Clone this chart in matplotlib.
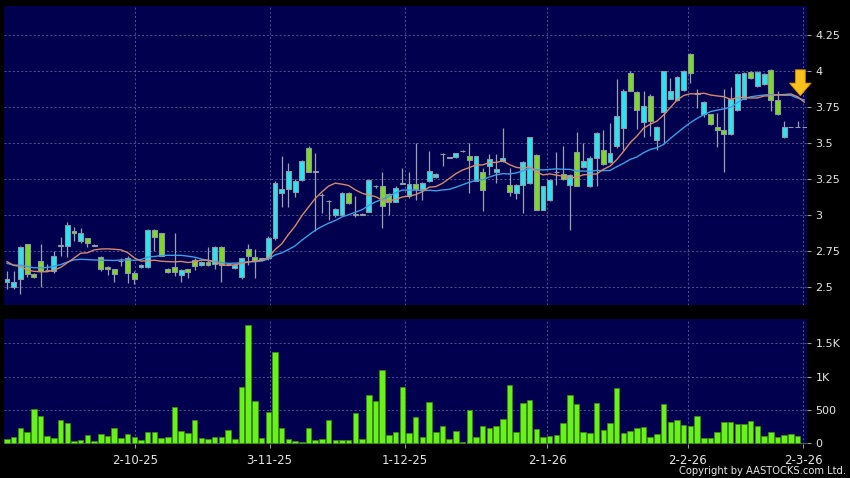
import matplotlib
matplotlib.use('Agg')
import matplotlib.pyplot as plt
import numpy as np
import pandas as pd

# ---------------- data ----------------
opens = [2.535, 2.50, 2.56, 2.80, 2.59, 2.68, 2.62, 2.61, 2.79, 2.79,
         2.89, 2.82, 2.84, 2.79, 2.71, 2.64, 2.625, 2.68, 2.70, 2.60,
         2.64, 2.64, 2.90, 2.875, 2.63, 2.64, 2.585, 2.625, 2.69, 2.655,
         2.675, 2.66, 2.78, 2.66, 2.635, 2.57, 2.765, 2.71, 2.69, 2.70,
         2.84, 3.155, 3.18, 3.165, 3.245, 3.47, 3.30, 3.14, 3.10, 3.00,
         3.00, 3.155, 3.005, 3.00, 3.025, 3.20, 3.20, 3.15, 3.095, 3.22,
         3.135, 3.22, 3.18, 3.24, 3.265, 3.425, 3.40, 3.405, 3.445, 3.41,
         3.24, 3.30, 3.345, 3.30, 3.375, 3.21, 3.155, 3.21, 3.225, 3.42,
         3.04, 3.105, 3.30, 3.29, 3.21, 3.44, 3.335, 3.205, 3.40, 3.45,
         3.37, 3.48, 3.605, 3.99, 3.855, 3.65, 3.83, 3.52, 3.72, 3.81,
         3.80, 3.87, 4.12, 3.845, 3.70, 3.70, 3.615, 3.59, 3.565, 3.73,
         3.81, 3.995, 3.895, 3.91, 4.01, 3.80, 3.54, 3.61, 3.61, 3.61]
highs = [2.61, 2.61, 2.79, 2.80, 2.60, 2.80, 2.665, 2.75, 2.85, 2.95,
         2.92, 2.91, 2.845, 2.80, 2.72, 2.645, 2.63, 2.70, 2.72, 2.61,
         2.66, 2.905, 2.905, 2.88, 2.635, 2.88, 2.625, 2.63, 2.70, 2.68,
         2.78, 2.785, 2.785, 2.67, 2.66, 2.70, 2.80, 2.765, 2.705, 2.855,
         3.24, 3.41, 3.36, 3.25, 3.385, 3.48, 3.43, 3.155, 3.105, 3.05,
         3.16, 3.16, 3.134, 3.015, 3.255, 3.21, 3.30, 3.155, 3.20, 3.33,
         3.30, 3.50, 3.23, 3.447, 3.295, 3.43, 3.405, 3.435, 3.45, 3.50,
         3.415, 3.33, 3.426, 3.426, 3.604, 3.331, 3.215, 3.375, 3.545, 3.425,
         3.205, 3.25, 3.44, 3.48, 3.29, 3.58, 3.50, 3.41, 3.58, 3.59,
         3.64, 3.944, 3.875, 4.00, 3.86, 3.86, 3.84, 3.62, 4.00, 3.95,
         3.965, 4.01, 4.125, 3.88, 3.79, 3.705, 3.708, 3.88, 3.89, 3.985,
         3.995, 4.00, 4.00, 3.985, 4.015, 3.86, 3.657, 3.61, 3.657, 3.61]
lows = [2.49, 2.49, 2.45, 2.57, 2.565, 2.50, 2.61, 2.60, 2.72, 2.71,
        2.82, 2.805, 2.78, 2.785, 2.61, 2.585, 2.54, 2.645, 2.53, 2.52,
        2.635, 2.635, 2.75, 2.72, 2.60, 2.575, 2.54, 2.565, 2.62, 2.65,
        2.645, 2.625, 2.54, 2.655, 2.63, 2.555, 2.655, 2.565, 2.685, 2.69,
        2.83, 3.06, 3.06, 3.13, 3.24, 3.30, 2.89, 3.015, 2.97, 2.99,
        2.995, 3.08, 2.99, 3.00, 3.02, 3.19, 2.91, 3.00, 3.09, 3.215,
        3.12, 3.105, 3.105, 3.23, 3.26, 3.34, 3.395, 3.40, 3.44, 3.155,
        3.235, 3.03, 3.28, 3.222, 3.37, 3.134, 3.11, 3.015, 3.22, 3.035,
        3.035, 3.10, 3.21, 3.245, 2.90, 3.20, 3.33, 3.195, 3.205, 3.35,
        3.365, 3.47, 3.45, 3.86, 3.60, 3.54, 3.55, 3.455, 3.50, 3.805,
        3.795, 3.865, 3.92, 3.745, 3.68, 3.63, 3.472, 3.30, 3.56, 3.725,
        3.805, 3.945, 3.89, 3.905, 3.725, 3.695, 3.535, 3.61, 3.61, 3.61]
closes = [2.555, 2.54, 2.78, 2.59, 2.57, 2.61, 2.62, 2.72, 2.79, 2.93,
          2.875, 2.88, 2.81, 2.79, 2.63, 2.625, 2.59, 2.68, 2.60, 2.56,
          2.655, 2.90, 2.85, 2.72, 2.605, 2.605, 2.62, 2.605, 2.65, 2.675,
          2.652, 2.78, 2.655, 2.665, 2.655, 2.70, 2.715, 2.68, 2.70, 2.84,
          3.225, 3.18, 3.31, 3.24, 3.38, 3.30, 3.31, 3.14, 3.10, 3.045,
          3.155, 3.085, 3.005, 3.01, 3.245, 3.20, 3.065, 3.095, 3.19, 3.22,
          3.22, 3.18, 3.225, 3.31, 3.29, 3.425, 3.40, 3.43, 3.445, 3.385,
          3.41, 3.175, 3.39, 3.32, 3.40, 3.16, 3.21, 3.37, 3.54, 3.04,
          3.20, 3.245, 3.30, 3.25, 3.28, 3.205, 3.38, 3.40, 3.57, 3.355,
          3.43, 3.69, 3.865, 3.865, 3.73, 3.76, 3.655, 3.615, 4.00, 3.865,
          3.96, 4.00, 3.99, 3.845, 3.785, 3.635, 3.59, 3.565, 3.81, 3.98,
          3.99, 3.95, 3.995, 3.98, 3.80, 3.70, 3.61, 3.61, 3.61, 3.61]
volumes = [70, 95, 235, 170, 515, 415, 110, 85, 350, 300,
           35, 55, 125, 35, 135, 115, 225, 75, 140, 95,
           45, 165, 165, 85, 100, 540, 190, 155, 350, 80,
           65, 90, 100, 200, 70, 845, 1775, 640, 75, 465,
           1370, 230, 60, 35, 25, 230, 50, 60, 355, 45,
           45, 45, 450, 60, 725, 635, 1105, 125, 170, 840,
           150, 400, 100, 620, 170, 260, 65, 180, 20, 495,
           100, 255, 230, 265, 365, 870, 165, 605, 655, 210,
           100, 110, 125, 300, 720, 585, 165, 160, 600, 200,
           305, 835, 160, 185, 225, 250, 95, 140, 590, 320,
           345, 280, 260, 405, 85, 85, 170, 315, 315, 290,
           290, 330, 260, 105, 165, 100, 130, 135, 110, 0]
# closes of the sessions just before the window (only feed the moving averages)
prior_closes = [2.78, 2.79, 2.77, 2.76, 2.60, 2.58, 2.56, 2.55, 2.57, 2.58,
                2.80, 2.85, 2.84, 2.66, 2.64, 2.62, 2.61, 2.60, 2.605]
date_labels = ['2-10-25', '3-11-25', '1-12-25', '2-1-26', '2-2-26', '2-3-26']
date_pos = [19.1, 39.2, 59.4, 80.6, 101.6, 118.8]
price_ticks = [2.5, 2.75, 3.0, 3.25, 3.5, 3.75, 4.0, 4.25]
price_labels = ['2.5', '2.75', '3', '3.25', '3.5', '3.75', '4', '4.25']
vol_ticks = [0, 500, 1000, 1500]
vol_labels = ['0', '500', '1K', '1.5K']
signal_x, signal_from, signal_to = 118.4, 4.01, 3.83

# ---------------- style ----------------
BG = '#00004e'
UP = '#27e6f2'
DOWN = '#7ddc1f'
EDGE = '#8e99a6'
WICK = '#98a2ae'
GRID = '#5a5e96'
VOL = '#68f21a'
MA10_C = '#d58a6c'
MA20_C = '#3c9ee6'
TXT = '#e6e6e6'

W, H = 850, 478
fig = plt.figure(figsize=(W / 100, H / 100), dpi=100, facecolor='black')
ax = fig.add_axes([4 / W, 1 - 305 / H, 803 / W, 299 / H], facecolor=BG)
axv = fig.add_axes([4 / W, 1 - 444 / H, 803 / W, 125 / H], facecolor=BG)

o = np.array(opens); h = np.array(highs); l = np.array(lows); c = np.array(closes)
x = np.arange(len(c))

# moving averages
full = pd.Series(prior_closes + closes)
ma10 = full.rolling(10).mean().iloc[len(prior_closes):].to_numpy()
ma20 = full.rolling(20).mean().iloc[len(prior_closes):].to_numpy()

# wicks
ax.vlines(x, l, h, color=WICK, linewidth=0.9, zorder=2)
# bodies
colors = np.where(c > o, UP, np.where(c < o, DOWN, EDGE))
bottom = np.minimum(o, c)
height = np.maximum(np.abs(c - o), 0.002)
ax.bar(x, height, bottom=bottom, width=0.74, color=colors, edgecolor=EDGE,
       linewidth=0.8, zorder=3)
ax.plot(x, ma20, color=MA20_C, linewidth=1.0, zorder=4)
ax.plot(x, ma10, color=MA10_C, linewidth=1.0, zorder=4)

ax.annotate('', xy=(signal_x, signal_to), xytext=(signal_x, signal_from),
            arrowprops=dict(arrowstyle='simple,head_length=0.7,head_width=1.2,tail_width=0.55',
                            facecolor='#f8c21c', edgecolor='#d08a00', linewidth=0.6,
                            mutation_scale=13, shrinkA=0, shrinkB=0), zorder=6)

xmin, xmax = -0.45, 119.4
ax.set_xlim(xmin, xmax)
ax.set_ylim(2.377, 4.453)

axv.bar(x, volumes, width=0.82, color=VOL, edgecolor='#3a8c12', linewidth=0.5, zorder=3)
axv.set_xlim(xmin, xmax)
axv.set_ylim(-10, 1865)

for a in (ax, axv):
    for s in a.spines.values():
        s.set_visible(False)
    a.yaxis.tick_right()
    a.set_xticks(date_pos)
    a.grid(True, color=GRID, linestyle=(0, (2.5, 2.5)), linewidth=0.6, zorder=0)
    a.set_axisbelow(True)
    a.tick_params(axis='y', colors='#9a9a9a', labelcolor=TXT, length=3, width=0.8,
                  labelsize=8, pad=3)

ax.set_yticks(price_ticks)
ax.set_yticklabels(price_labels)
ax.tick_params(axis='x', length=0, labelbottom=False)

axv.set_yticks(vol_ticks)
axv.set_yticklabels(vol_labels)
axv.set_xticklabels(date_labels)
axv.tick_params(axis='x', colors='#9a9a9a', labelcolor=TXT, length=3, width=0.8,
                labelsize=8.5, pad=4)

fig.text(846 / W, 1 - 471 / H, 'Copyright by AASTOCKS.com Ltd.', ha='right', va='center',
         color=TXT, fontsize=7.2)

fig.savefig('out.png', dpi=100, facecolor='black')
